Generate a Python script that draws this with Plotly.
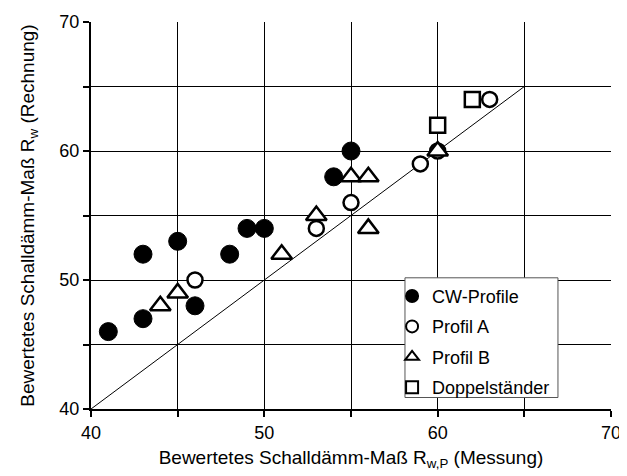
import plotly.graph_objects as go

# Data (x = Messung, y = Rechnung)
cw_x = [41, 43, 43, 45, 46, 48, 49, 50, 54, 55]
cw_y = [46, 47, 52, 53, 48, 52, 54, 54, 58, 60]

pa_x = [46, 53, 55, 59, 60, 63]
pa_y = [50, 54, 56, 59, 60, 64]

pb_x = [44, 45, 51, 53, 55, 56, 56, 60]
pb_y = [48, 49, 52, 55, 58, 58, 54, 60]

ds_x = [60, 62]
ds_y = [62, 64]

diag_x = [40, 65]
diag_y = [40, 65]

FONT = "Liberation Sans, Arial, sans-serif"

fig = go.Figure()
fig.add_trace(go.Scatter(x=diag_x, y=diag_y, mode="lines",
                         line=dict(color="black", width=1), showlegend=False,
                         hoverinfo="skip"))

fig.add_trace(go.Scatter(x=cw_x, y=cw_y, mode="markers", name="CW-Profile",
                         legendgroup="a",
                         marker=dict(symbol="circle", size=18, color="black",
                                     line=dict(color="black", width=1))))
fig.add_trace(go.Scatter(x=pa_x, y=pa_y, mode="markers", name="Profil A",
                         legendgroup="b",
                         marker=dict(symbol="circle", size=15, color="white",
                                     line=dict(color="black", width=2.5))))
fig.add_trace(go.Scatter(x=pb_x, y=pb_y, mode="markers", name="Profil B",
                         legendgroup="c",
                         marker=dict(symbol="triangle-up", size=18, color="white",
                                     line=dict(color="black", width=2.5))))
fig.add_trace(go.Scatter(x=ds_x, y=ds_y, mode="markers", name="Doppelständer",
                         legendgroup="d",
                         marker=dict(symbol="square", size=15, color="white",
                                     line=dict(color="black", width=2.5))))

axis_common = dict(
    range=[40, 70], dtick=10, tick0=40,
    showgrid=True, gridcolor="black", gridwidth=1,
    showline=True, linecolor="black", linewidth=2,
    ticks="outside", ticklen=6, tickwidth=1.5, tickcolor="black",
    minor=dict(dtick=5, showgrid=True, gridcolor="black", gridwidth=1,
               ticks="outside", ticklen=6, tickwidth=1.5, tickcolor="black"),
    zeroline=False, automargin=False,
    tickfont=dict(family=FONT, size=18, color="black"),
    fixedrange=True,
)

fig.update_xaxes(**axis_common,
                 title=dict(text="Bewertetes Schalldämm-Maß R<sub>w,P</sub> (Messung)",
                            font=dict(family=FONT, size=19, color="black"), standoff=9))
fig.update_yaxes(**axis_common,
                 title=dict(text="Bewertetes Schalldämm-Maß R<sub>w</sub> (Rechnung)",
                            font=dict(family=FONT, size=19, color="black"), standoff=20))

# legend frame (white box covering the grid)
fig.add_shape(type="rect", xref="paper", yref="paper",
              x0=0.6038, x1=0.898, y0=0.0297, y1=0.339,
              fillcolor="white", line=dict(color="#555", width=1), layer="above")

fig.update_layout(
    template="none",
    width=627, height=476,
    margin=dict(l=83, r=24, t=14, b=75),
    plot_bgcolor="white", paper_bgcolor="white",
    font=dict(family=FONT, size=18, color="black"),
    legend=dict(x=0.579, y=0.339, xanchor="left", yanchor="top",
                bgcolor="rgba(0,0,0,0)", borderwidth=0,
                font=dict(family=FONT, size=18, color="black"),
                itemsizing="constant", tracegroupgap=4),
    showlegend=True,
)

fig.write_html("out.html")
